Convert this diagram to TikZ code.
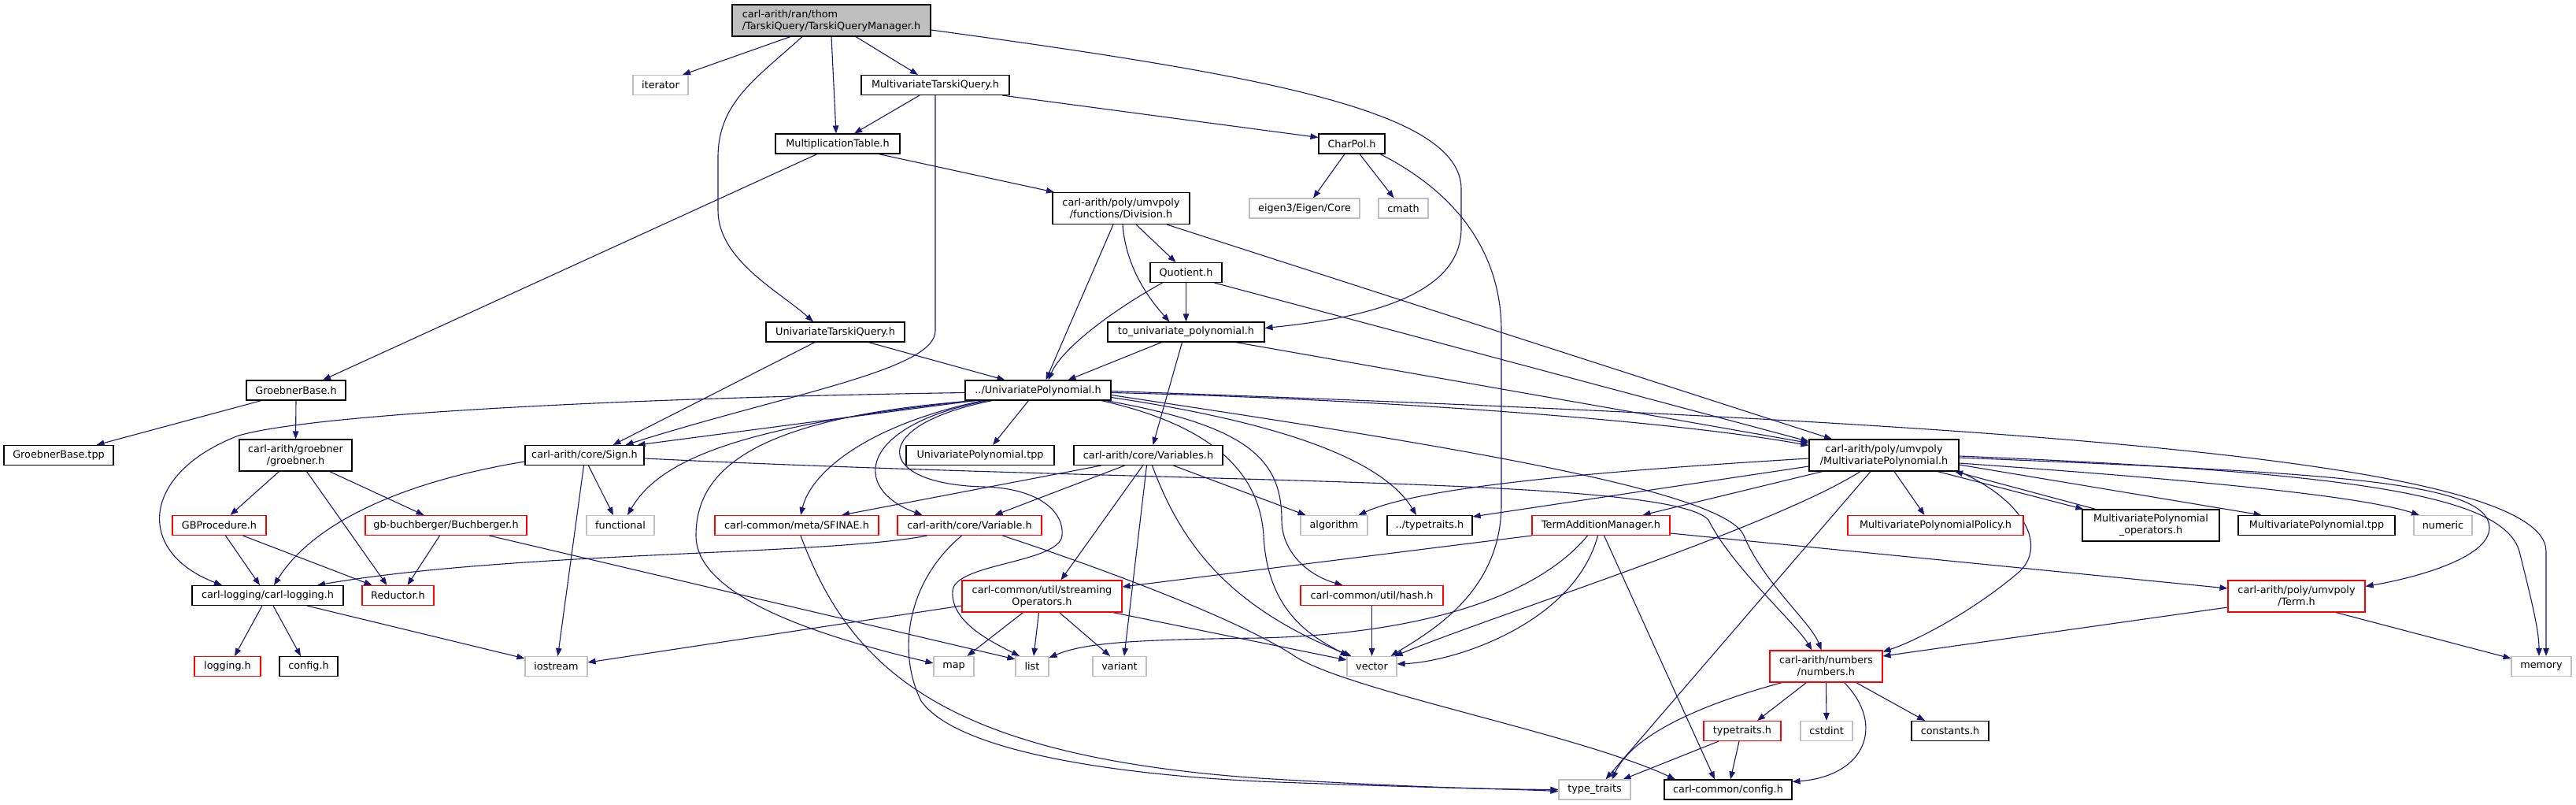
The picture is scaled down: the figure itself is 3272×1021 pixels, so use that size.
\documentclass[tikz,border=0pt]{standalone}
\usepackage{fontspec}
\usetikzlibrary{arrows.meta}
\newfontfamily\dxfam{DejaVu Sans}
\newcommand\dxfont{\dxfam\fontsize{12.8pt}{15pt}\selectfont}
\definecolor{edgecol}{HTML}{191970}
\definecolor{graybd}{HTML}{BFBFBF}
\definecolor{tqmfill}{HTML}{BFBFBF}
\pgfdeclarelayer{bg}
\pgfdeclarelayer{edges}
\pgfsetlayers{bg,edges,main}
\tikzset{
  nd/.style={draw=black, line width=1.1pt, inner sep=0pt, minimum height=25pt, font=\dxfont, fill=white},
  ndr/.style={nd, draw=red},
  ndg/.style={nd, draw=graybd},
  two/.style={minimum height=40pt, align=center},
  ed/.style={draw=edgecol, line width=1.1pt, -{Triangle[length=10pt,width=7.5pt]}},
}
\begin{document}
\begin{tikzpicture}[x=1pt,y=-1pt]
\useasboundingbox (0,0) rectangle (3272,1021);
\begin{pgfonlayer}{bg}
\fill[white] (0,0) rectangle (3272,1021);
\end{pgfonlayer}
% nodes
\node[nd, fill=tqmfill, minimum width=252pt, two, align=left] (A) at (1056,26) {carl-arith/ran/thom\\/TarskiQuery/TarskiQueryManager.h};
\node[ndg, minimum width=70pt] (B) at (839,108) {iterator};
\node[nd, minimum width=188pt] (C) at (1188,108) {MultivariateTarskiQuery.h};
\node[nd, minimum width=158pt] (D) at (1064,182.5) {MultiplicationTable.h};
\node[nd, minimum width=84pt] (E) at (1717,182.5) {CharPol.h};
\node[nd, two, minimum width=174pt] (F) at (1424,264.5) {carl-arith/poly/umvpoly\\/functions/Division.h};
\node[ndg, minimum width=140pt] (G) at (1657,264.5) {eigen3/Eigen/Core};
\node[ndg, minimum width=63pt] (H) at (1782.5,264.5) {cmath};
\node[nd, minimum width=91pt] (I) at (1506.5,346) {Quotient.h};
\node[nd, minimum width=176pt] (J) at (1061,421.5) {UnivariateTarskiQuery.h};
\node[nd, minimum width=199pt] (K) at (1506.5,421.5) {to\_univariate\_polynomial.h};
\node[nd, minimum width=185pt] (L) at (1318.5,495.5) {../UnivariatePolynomial.h};
\node[nd, minimum width=126pt] (M) at (376,495.5) {GroebnerBase.h};
\node[nd, minimum width=139pt] (N) at (74.5,578) {GroebnerBase.tpp};
\node[nd, two, minimum width=143pt] (O) at (375.5,578) {carl-arith/groebner\\/groebner.h};
\node[nd, minimum width=151pt] (P) at (742.5,578) {carl-arith/core/Sign.h};
\node[nd, minimum width=188pt] (Q) at (1245,578) {UnivariatePolynomial.tpp};
\node[nd, minimum width=189pt] (R) at (1458.5,578) {carl-arith/core/Variables.h};
\node[nd, two, minimum width=190pt] (S) at (2393,578) {carl-arith/poly/umvpoly\\/MultivariatePolynomial.h};
\node[ndr, minimum width=119pt] (T) at (278.5,667) {GBProcedure.h};
\node[ndr, minimum width=205pt] (U) at (566.5,667) {gb-buchberger/Buchberger.h};
\node[ndg, minimum width=86pt] (V) at (788,667) {functional};
\node[ndr, minimum width=208pt] (W) at (1012,667) {carl-common/meta/SFINAE.h};
\node[ndr, minimum width=183pt] (X) at (1231.5,667) {carl-arith/core/Variable.h};
\node[ndg, minimum width=85pt] (Y) at (1694.5,667) {algorithm};
\node[nd, minimum width=108pt] (Z) at (1816,667) {../typetraits.h};
\node[ndr, minimum width=175pt] (AA) at (2033.5,667) {TermAdditionManager.h};
\node[ndr, minimum width=223pt] (AB) at (2458.5,667) {MultivariatePolynomialPolicy.h};
\node[nd, two, minimum width=174pt] (AC) at (2732,667) {MultivariatePolynomial\\\_operators.h};
\node[nd, minimum width=199pt] (AD) at (2942.5,667) {MultivariatePolynomial.tpp};
\node[ndg, minimum width=74pt] (AE) at (3103,667) {numeric};
\node[nd, minimum width=192pt] (AF) at (340,756) {carl-logging/carl-logging.h};
\node[ndr, minimum width=91pt] (AG) at (505.5,756) {Reductor.h};
\node[ndr, two, minimum width=203pt] (AH) at (1323.5,757) {carl-common/util/streaming\\Operators.h};
\node[ndr, minimum width=181pt] (AI) at (1742.5,756) {carl-common/util/hash.h};
\node[ndr, two, minimum width=174pt] (AJ) at (2917,757) {carl-arith/poly/umvpoly\\/Term.h};
\node[ndg, minimum width=79pt] (AK) at (706.5,846) {iostream};
\node[ndg, minimum width=51pt] (AL) at (1211.5,846) {map};
\node[ndg, minimum width=42pt] (AM) at (1311,846) {list};
\node[ndg, minimum width=68pt] (AN) at (1422,846) {variant};
\node[ndg, minimum width=63pt] (AO) at (1742.5,846) {vector};
\node[ndg, minimum width=76pt] (AP) at (3228,846) {memory};
\node[ndr, two, minimum width=143pt] (AQ) at (2319.5,846) {carl-arith/numbers\\/numbers.h};
\node[ndr, minimum width=84pt] (AR) at (289,846) {logging.h};
\node[nd, minimum width=74pt] (AS) at (392,846) {config.h};
\node[ndr, minimum width=98pt] (AT) at (2213,928) {typetraits.h};
\node[ndg, minimum width=66pt] (AU) at (2320,928) {cstdint};
\node[nd, minimum width=98pt] (AV) at (2477,928) {constants.h};
\node[ndg, minimum width=91pt] (AW) at (2025.5,1002.5) {type\_traits};
\node[nd, minimum width=162pt] (AX) at (2195,1002.5) {carl-common/config.h};
\begin{pgfonlayer}{edges}
% TQM
\draw[ed] ([xshift=-52pt]A.south) -- ([xshift=28pt]B.north);
\draw[ed] ([xshift=-37pt]A.south) .. controls (960,100) and (912,130) .. (912,200) -- (912,267) .. controls (912,330) and (990,370) .. ([xshift=-28pt]J.north);
\draw[ed] (A.south) -- ([xshift=-2pt]D.north);
\draw[ed] ([xshift=31pt]A.south) -- ([xshift=-22pt]C.north);
\draw[ed] ([yshift=-12pt]A.east) .. controls (1600,95) and (1856,140) .. (1856,240) -- (1856,290) .. controls (1856,380) and (1720,405) .. ([yshift=5pt]K.east);
% MTQ
\draw[ed] ([xshift=-20pt]C.south) -- ([xshift=21pt]D.north);
\draw[ed] ([xshift=85pt]C.south) -- ([yshift=8pt]E.west);
\draw[ed] (C.south) -- (1188,420) .. controls (1188,470) and (1000,500) .. ([xshift=52pt]P.north);
% MultiplicationTable
\draw[ed] ([xshift=-26pt]D.south) -- ([xshift=34pt]M.north);
\draw[ed] ([xshift=52pt]D.south) -- ([xshift=-85pt]F.north);
% CharPol
\draw[ed] ([xshift=-9pt]E.south) -- ([xshift=11pt]G.north);
\draw[ed] ([xshift=10pt]E.south) -- ([xshift=-12pt]H.north);
\draw[ed] ([xshift=36pt]E.south) .. controls (1860,250) and (1907,330) .. (1907,420) -- (1907,640) .. controls (1907,750) and (1820,800) .. ([xshift=-8pt]AO.north east);
% Division
\draw[ed] ([xshift=-10pt]F.south) -- ([xshift=10pt]L.north);
\draw[ed] ([xshift=2pt]F.south) .. controls (1430,340) and (1460,380) .. ([xshift=-21pt]K.north);
\draw[ed] ([xshift=19pt]F.south) -- ([xshift=-13pt]I.north);
\draw[ed] ([xshift=58pt]F.south) -- ([xshift=-66pt]S.north);
% Quotient
\draw[ed] (I.south) -- (K.north);
\draw[ed] ([xshift=-30pt]I.south) .. controls (1420,390) and (1350,440) .. ([xshift=13pt]L.north);
\draw[ed] ([xshift=36pt]I.south) -- ([yshift=-3pt]S.north west);
% UnivariateTarskiQuery
\draw[ed] ([xshift=-26pt]J.south) -- ([xshift=36pt]P.north);
\draw[ed] ([xshift=42pt]J.south) -- ([xshift=-42pt]L.north);
% to_univariate_polynomial
\draw[ed] ([xshift=-31pt]K.south) -- ([xshift=38pt]L.north);
\draw[ed] ([xshift=-5pt]K.south) -- ([xshift=6pt]R.north);
\draw[ed] ([xshift=63pt]K.south) -- ([yshift=-5pt]S.north west);
% UnivariatePolynomial
\draw[ed] ([yshift=-3pt]L.east) .. controls (1700,505) and (2100,530) .. ([yshift=-8pt]S.north west);
\draw[ed] ([yshift=-1pt]L.east) .. controls (2500,535) and (3234,580) .. (3234,700) -- ([xshift=6pt]AP.north);
\draw[ed] ([xshift=-80pt]L.south) -- ([xshift=67pt]P.north);
\draw[ed] ([xshift=-84pt]L.south) .. controls (950,540) and (840,580) .. ([xshift=9pt]V.north);
\draw[ed] ([xshift=-78pt]L.south) .. controls (950,530) and (884,600) .. (884,680) .. controls (884,760) and (1050,810) .. ([yshift=4pt]AL.west);
\draw[ed] ([xshift=-70pt]L.south) .. controls (1100,540) and (1030,600) .. ([xshift=5pt]W.north);
\draw[ed] ([xshift=-64pt]L.south) .. controls (1090,540) and (1080,620) .. ([xshift=-60pt]X.north);
\draw[ed] ([xshift=-58pt]L.south) .. controls (1100,540) and (1110,615) .. (1250,618) .. controls (1320,620) and (1352,650) .. (1349,680) .. controls (1345,715) and (1213,715) .. (1210,750) .. controls (1207,790) and (1260,815) .. ([xshift=-16pt]AM.north);
\draw[ed] ([xshift=-12pt]L.south) -- ([xshift=16pt]Q.north);
\draw[ed] ([xshift=80pt]L.south) .. controls (1540,540) and (1600,600) .. (1605,680) .. controls (1610,780) and (1670,810) .. ([xshift=-30pt]AO.north);
\draw[ed] ([xshift=86pt]L.south) .. controls (1580,540) and (1628,580) .. (1628,660) .. controls (1628,700) and (1660,730) .. ([xshift=-37pt]AI.north);
\draw[ed] ([yshift=-9pt]L.east) .. controls (1650,540) and (1760,590) .. ([xshift=-17pt]Z.north);
\draw[ed] ([yshift=-6pt]L.east) .. controls (1800,560) and (2190,620) .. (2215,680) .. controls (2240,740) and (2300,790) .. ([xshift=-6pt]AQ.north);
\draw[ed] ([yshift=-3pt]L.west) .. controls (800,505) and (400,525) .. (303,553) .. controls (180,600) and (170,700) .. ([xshift=-58pt]AF.north);
% Sign
\draw[ed] ([yshift=-8pt]P.west) .. controls (520,610) and (400,660) .. ([xshift=8pt]AF.north);
\draw[ed] ([xshift=5pt]P.south) -- ([xshift=-9pt]V.north);
\draw[ed] ([xshift=-1pt]P.south) -- ([xshift=2pt]AK.north);
\draw[ed] ([yshift=-4pt]P.east) .. controls (1500,615) and (2120,605) .. (2170,660) .. controls (2200,720) and (2280,790) .. ([xshift=-18pt]AQ.north);
% GroebnerBase
\draw[ed] (M.south) -- (O.north);
\draw[ed] ([xshift=-44pt]M.south) -- ([xshift=48pt]N.north);
% groebner.h
\draw[ed] ([xshift=-21pt]O.south) -- ([xshift=14pt]T.north);
\draw[ed] ([xshift=14pt]O.south) -- ([xshift=-14pt]AG.north);
\draw[ed] ([xshift=43pt]O.south) -- ([xshift=-28pt]U.north);
% GBProcedure
\draw[ed] ([xshift=8pt]T.south) -- ([xshift=-10pt]AF.north);
\draw[ed] ([xshift=30pt]T.south) -- ([xshift=-33pt]AG.north);
% Buchberger
\draw[ed] ([xshift=-8pt]U.south) -- ([xshift=12pt]AG.north);
\draw[ed] ([xshift=55pt]U.south) -- ([yshift=-4pt]AM.north west);
% carl-logging
\draw[ed] ([xshift=-7pt]AF.south) -- ([xshift=9pt]AR.north);
\draw[ed] ([xshift=7pt]AF.south) -- ([xshift=-10pt]AS.north);
\draw[ed] ([xshift=50pt]AF.south) -- ([yshift=-3pt]AK.north west);
% streamingOperators
\draw[ed] ([yshift=-12pt]AH.west) -- ([yshift=5pt]AK.east);
\draw[ed] ([xshift=-24pt]AH.south) -- ([xshift=17pt]AL.north);
\draw[ed] ([xshift=-4pt]AH.south) -- ([xshift=2pt]AM.north);
\draw[ed] ([xshift=22pt]AH.south) -- ([xshift=-12pt]AN.north);
\draw[ed] ([xshift=90pt]AH.south) -- ([yshift=-5pt]AO.north west);
% hash
\draw[ed] (AI.south) -- (AO.north);
% Variables
\draw[ed] ([xshift=-60pt]R.south) -- ([xshift=57pt]W.north);
\draw[ed] ([xshift=-30pt]R.south) -- ([xshift=32pt]X.north);
\draw[ed] ([xshift=-7pt]R.south) -- ([xshift=24pt]AH.north);
\draw[ed] ([xshift=-2pt]R.south) -- ([xshift=6pt]AN.north);
\draw[ed] ([xshift=5pt]R.south) .. controls (1500,690) and (1560,770) .. ([xshift=-26pt]AO.north);
\draw[ed] ([xshift=32pt]R.south) -- ([xshift=-36pt]Y.north);
% MultivariatePolynomial
\draw[ed] ([yshift=-4pt]S.west) .. controls (2000,600) and (1800,620) .. ([xshift=31pt]Y.north);
\draw[ed] ([yshift=-14pt]S.west) -- ([yshift=-2pt]Z.north east);
\draw[ed] ([xshift=-78pt]S.south) -- ([xshift=53pt]AA.north);
\draw[ed] ([xshift=13pt]S.south) -- ([xshift=-14pt]AB.north);
\draw[ed] ([xshift=68pt]S.south) -- ([xshift=2pt]AC.north west);
\draw[ed] ([xshift=-70pt]AC.north) -- ([xshift=90pt]S.south);
\draw[ed] ([yshift=-12pt]S.east) -- ([xshift=-70pt]AD.north);
\draw[ed] ([yshift=-10pt]S.east) .. controls (2800,610) and (3000,630) .. ([xshift=-30pt]AE.north);
\draw[ed] ([yshift=-3pt]S.east) .. controls (2950,600) and (3162,610) .. (3162,670) .. controls (3162,710) and (3060,735) .. ([yshift=-8pt]AJ.north east);
\draw[ed] ([yshift=-1pt]S.east) .. controls (3000,600) and (3180,630) .. (3200,700) .. controls (3215,760) and (3225,800) .. ([xshift=-3pt]AP.north);
\draw[ed] (S.south east) .. controls (2580,640) and (2600,700) .. (2560,730) .. controls (2500,780) and (2430,815) .. ([yshift=-2pt]AQ.north east);
\draw[ed] ([xshift=-17pt]S.south) -- ([xshift=14pt]AW.north);
\draw[ed] ([xshift=-30pt]S.south) .. controls (2250,670) and (1900,780) .. ([xshift=-3pt]AO.north east);
% TermAdditionManager
\draw[ed] (AA.south west) -- ([yshift=12pt]AH.east);
\draw[ed] ([xshift=-17pt]AA.south) .. controls (1950,760) and (1800,805) .. (1600,810) .. controls (1450,812) and (1380,815) .. ([yshift=-2pt]AM.north east);
\draw[ed] ([xshift=-4pt]AA.south) .. controls (2000,790) and (1850,840) .. ([yshift=3pt]AO.east);
\draw[ed] ([xshift=4pt]AA.south) -- ([xshift=-17pt]AX.north);
\draw[ed] ([yshift=-10pt]AA.east) -- ([yshift=10pt]AJ.west);
% Term
\draw[ed] ([yshift=-14pt]AJ.west) -- ([yshift=13pt]AQ.east);
\draw[ed] ([xshift=50pt]AJ.south) -- ([yshift=-3pt]AP.north west);
% numbers
\draw[ed] ([xshift=-25pt]AQ.south) -- ([xshift=19pt]AT.north);
\draw[ed] (AQ.south) -- (AU.north);
\draw[ed] ([xshift=38pt]AQ.south) -- ([xshift=-32pt]AV.north);
\draw[ed] ([xshift=-56pt]AQ.south) .. controls (2140,900) and (2070,940) .. ([xshift=22pt]AW.north);
\draw[ed] ([xshift=23pt]AQ.south) .. controls (2395,920) and (2370,985) .. ([yshift=-3pt]AX.north east);
% typetraits.h
\draw[ed] ([xshift=-30pt]AT.south) -- ([xshift=36pt]AW.north);
\draw[ed] ([xshift=-4pt]AT.south) -- ([xshift=3pt]AX.north);
% SFINAE, Variable
\draw[ed] ([xshift=5pt]W.south) .. controls (1080,850) and (1200,960) .. (1600,988) .. controls (1800,1000) and (1900,1002) .. (AW.west);
\draw[ed] ([xshift=-10pt]X.south) .. controls (1150,740) and (1140,830) .. (1170,890) .. controls (1220,960) and (1450,985) .. (1600,992) .. controls (1800,1000) and (1900,1001) .. ([yshift=-2pt]AW.west);
\draw[ed] ([xshift=-54pt]X.south) .. controls (1050,705) and (650,700) .. ([xshift=63pt]AF.north);
\draw[ed] ([xshift=42pt]X.south) .. controls (1380,715) and (1560,780) .. (1640,830) .. controls (1700,875) and (2000,930) .. ([xshift=-67pt]AX.north);
\end{pgfonlayer}
\end{tikzpicture}
\end{document}
